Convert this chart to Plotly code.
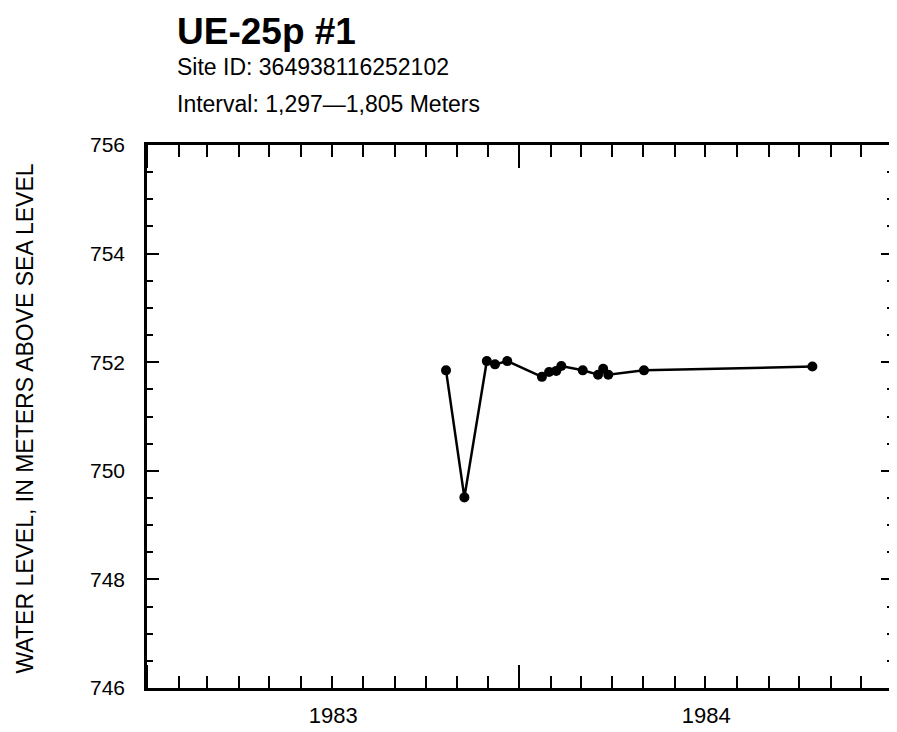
import plotly.graph_objects as go

# ---- data ----
dates = ["1983-10-21", "1983-11-08", "1983-11-30", "1983-12-08", "1983-12-20",
         "1984-01-23", "1984-01-30", "1984-02-06", "1984-02-11", "1984-03-03",
         "1984-03-18", "1984-03-23", "1984-03-28", "1984-05-02", "1984-10-14"]
water_level = [751.85, 749.51, 752.02, 751.96, 752.02,
               751.73, 751.82, 751.84, 751.93, 751.85,
               751.77, 751.88, 751.77, 751.85, 751.92]

title_text = "UE-25p #1"
site_text = "Site ID: 364938116252102"
interval_text = "Interval: 1,297\u20141,805 Meters"
ytitle_text = "WATER LEVEL, IN METERS ABOVE SEA LEVEL"

FONT = "Liberation Sans, Arial, sans-serif"
W, H = 897, 732
L, R, T, B = 139, 888, 137, 680


def px_x(p):
    return (p - L) / (R - L)


def px_y(p):
    return (B - p) / (B - T)


fig = go.Figure()
fig.add_trace(go.Scatter(
    x=dates, y=water_level, mode="lines+markers",
    line=dict(color="black", width=2.5),
    marker=dict(color="black", size=10),
    showlegend=False,
))

fig.update_layout(
    width=W, height=H,
    margin=dict(l=L, r=W - R, t=T, b=H - B),
    paper_bgcolor="white", plot_bgcolor="white",
    font=dict(family=FONT, color="black"),
    xaxis=dict(
        type="date",
        range=["1983-01-01", "1985-01-01"],
        tick0="1983-01-01", dtick="M12",
        tickformat="%Y", ticklabelmode="period",
        ticks="inside", ticklen=23, tickwidth=2, tickcolor="black",
        showline=True, linewidth=2.5, linecolor="black", mirror="allticks",
        showgrid=False, zeroline=False,
        tickfont=dict(size=22, family=FONT),
        ticklabelstandoff=6,
        minor=dict(dtick="M1", tick0="1983-01-01", ticks="inside", ticklen=12,
                   tickwidth=2, tickcolor="black", showgrid=False),
    ),
    yaxis=dict(
        range=[746, 756],
        tick0=746, dtick=2,
        ticks="inside", ticklen=12, tickwidth=2, tickcolor="black",
        showline=True, linewidth=2.5, linecolor="black", mirror="allticks",
        showgrid=False, zeroline=False,
        tickfont=dict(size=21, family=FONT),
        ticklabelstandoff=15,
        minor=dict(dtick=0.5, tick0=746, ticks="inside", ticklen=6,
                   tickwidth=2, tickcolor="black", showgrid=False),
    ),
    annotations=[
        dict(text="<b>" + title_text + "</b>", xref="paper", yref="paper",
             x=px_x(167), y=px_y(23.5), xanchor="left", yanchor="middle",
             showarrow=False, font=dict(size=37, family=FONT)),
        dict(text=site_text, xref="paper", yref="paper",
             x=px_x(167), y=px_y(58.5), xanchor="left", yanchor="middle",
             showarrow=False, font=dict(size=23, family=FONT)),
        dict(text=interval_text, xref="paper", yref="paper",
             x=px_x(167), y=px_y(96.5), xanchor="left", yanchor="middle",
             showarrow=False, font=dict(size=23, family=FONT)),
        dict(text=ytitle_text, xref="paper", yref="paper", textangle=-90,
             x=px_x(17), y=px_y(410), xanchor="center", yanchor="middle",
             showarrow=False, font=dict(size=23, family=FONT)),
    ],
)

fig.write_html("out.html")
